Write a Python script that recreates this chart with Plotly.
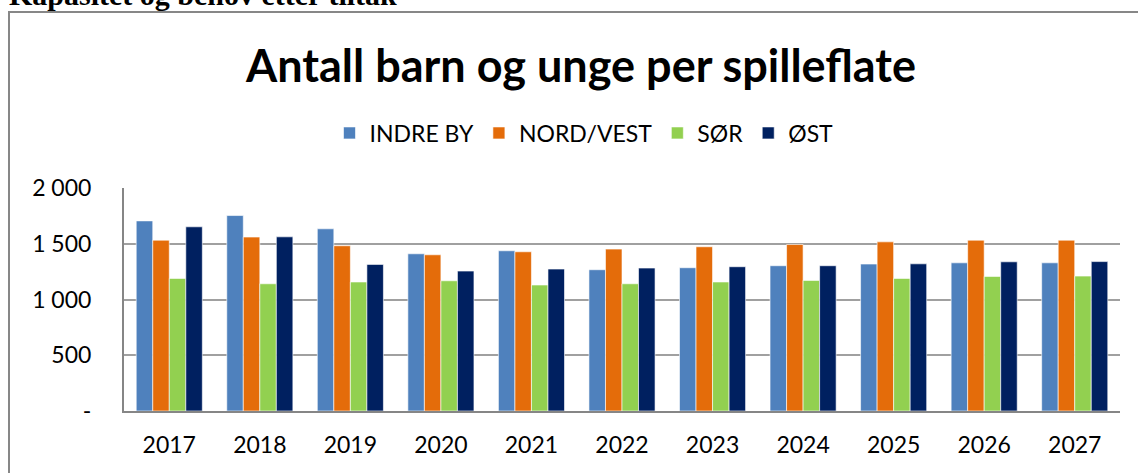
import plotly.graph_objects as go

years = ["2017", "2018", "2019", "2020", "2021", "2022", "2023", "2024", "2025", "2026", "2027"]
indre_by = [1705, 1753, 1634, 1410, 1437, 1267, 1285, 1303, 1318, 1329, 1329]
nord_vest = [1532, 1560, 1482, 1401, 1428, 1452, 1473, 1493, 1517, 1532, 1532]
sor = [1189, 1141, 1157, 1168, 1130, 1141, 1157, 1171, 1189, 1207, 1210]
ost = [1652, 1562, 1315, 1255, 1273, 1282, 1294, 1303, 1320, 1338, 1340]

series_names = ["INDRE BY", "NORD/VEST", "SØR", "ØST"]
series_values = [indre_by, nord_vest, sor, ost]
series_colors = ["#4F81BD", "#E46C0A", "#92D050", "#002060"]

y_tickvals = [0, 500, 1000, 1500, 2000]
y_ticktext = ["-", "500", "1 000", "1 500", "2 000"]

title_text = "Antall barn og unge per spilleflate"
page_heading = "Kapasitet og behov etter tiltak"

FONT = "Lato, Calibri, Carlito, sans-serif"

fig = go.Figure()
for name, vals, col in zip(series_names, series_values, series_colors):
    fig.add_trace(go.Bar(
        x=years, y=vals, name=name,
        marker=dict(color=col, line=dict(color="rgba(255,255,255,0.6)", width=1)),
    ))

W, H = 1138, 473
L, R, T, B = 124, 18, 188, 62
pw, ph = W - L - R, H - T - B


def px_x(p):
    return (p - L) / pw


def px_y(p):
    return (H - B - p) / ph


fig.update_layout(
    width=W, height=H,
    margin=dict(l=L, r=R, t=T, b=B),
    paper_bgcolor="white", plot_bgcolor="white",
    barmode="group", bargap=0.27, bargroupgap=0,
    font=dict(family=FONT, size=23, color="#000000"),
    showlegend=True,
    legend=dict(orientation="h", x=px_x(584), xanchor="center", y=px_y(133), yanchor="middle",
                font=dict(family=FONT, size=23), itemwidth=30, traceorder="normal",
                bgcolor="rgba(0,0,0,0)"),
    xaxis=dict(type="category", showgrid=False, showline=True, linecolor="#868686", linewidth=2,
               ticks="outside", ticklen=12, tickcolor="rgba(0,0,0,0)",
               tickfont=dict(family=FONT, size=23, color="#000000")),
    yaxis=dict(range=[0, 2000], tickvals=y_tickvals, ticktext=y_ticktext,
               showgrid=True, gridcolor="#A0A0A0", gridwidth=2,
               showline=True, linecolor="#868686", linewidth=2,
               ticks="", ticklabelstandoff=26, zeroline=False,
               tickfont=dict(family=FONT, size=23, color="#000000")),
    annotations=[
        dict(text="<b>" + title_text + "</b>", xref="paper", yref="paper",
             x=px_x(580), y=px_y(65), xanchor="center", yanchor="middle",
             showarrow=False, font=dict(family=FONT, size=45, color="#000000")),
        dict(text="<b>" + page_heading + "</b>", xref="paper", yref="paper",
             x=px_x(7), y=px_y(13), xanchor="left", yanchor="bottom",
             showarrow=False, font=dict(family="Liberation Serif, Times New Roman, serif", size=30, color="#000000")),
    ],
    shapes=[
        dict(type="rect", xref="paper", yref="paper",
             x0=px_x(9), x1=px_x(1150), y0=px_y(490), y1=px_y(12),
             line=dict(color="#878787", width=2), fillcolor="rgba(0,0,0,0)", layer="below"),
    ],
)

fig.write_html("out.html", config={"displayModeBar": False},
               post_script="document.body.style.margin='0';document.body.style.overflow='hidden';")
